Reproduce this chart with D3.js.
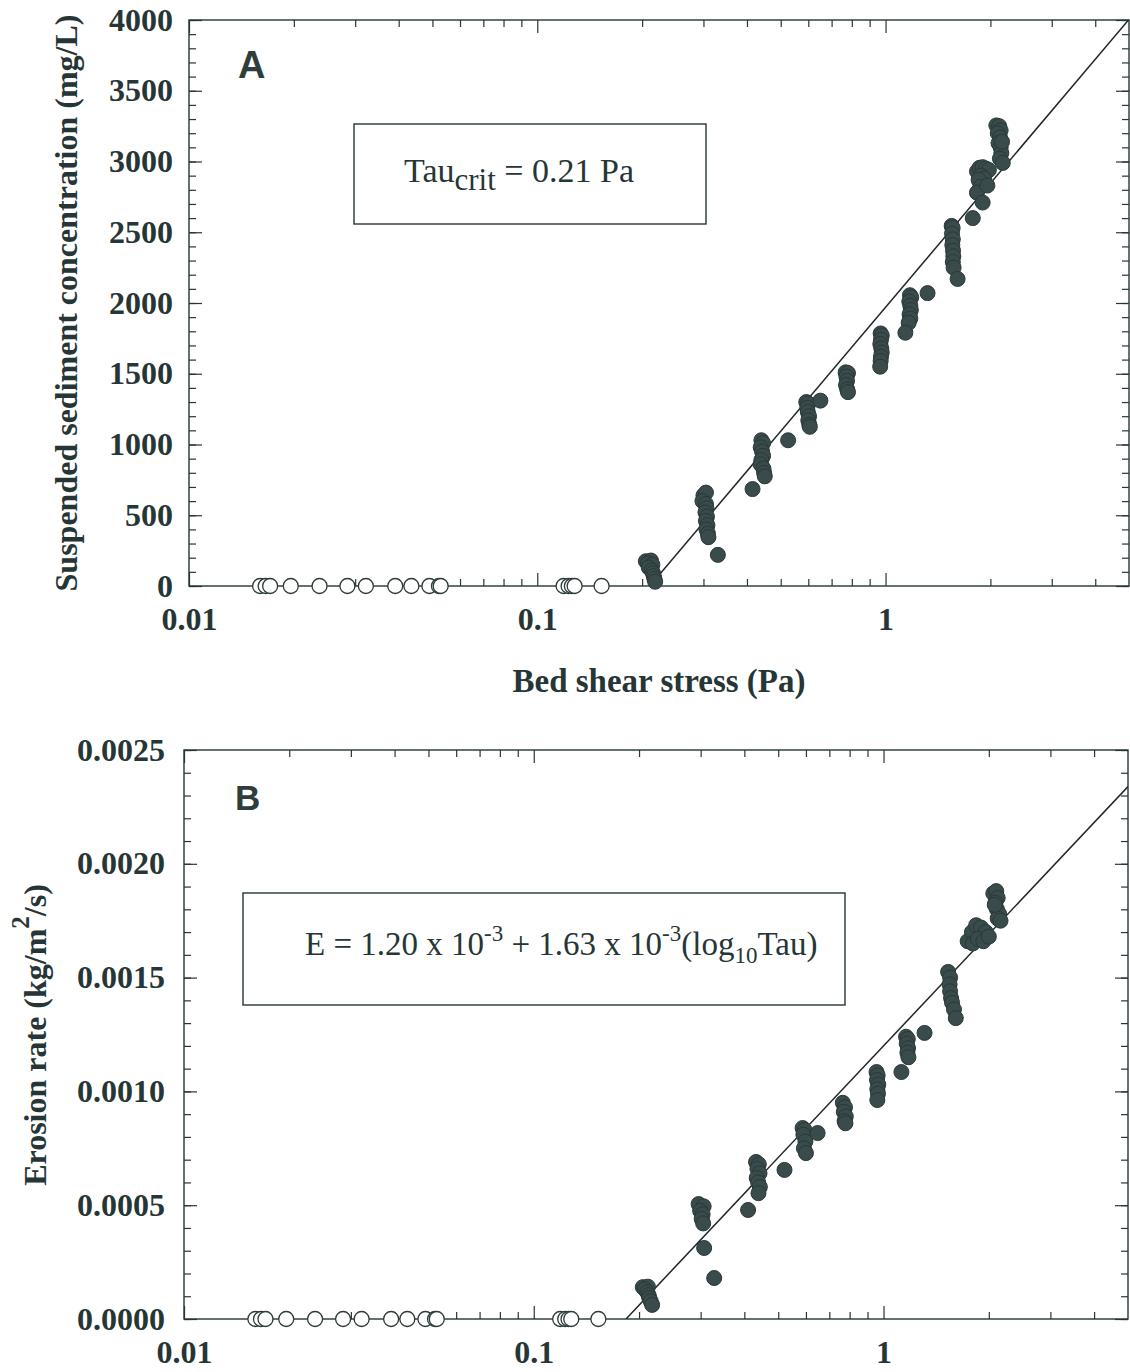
<!DOCTYPE html>
<html><head><meta charset="utf-8">
<script src="https://cdn.jsdelivr.net/npm/d3@7"></script>
<style>body{margin:0;background:#fff}</style>
</head><body>
<svg id="c" width="1130" height="1372" xmlns="http://www.w3.org/2000/svg"></svg>
<script>
// ---------- data ----------
const xTickValues = [0.01, 0.1, 1];
const xTickLabels = ["0.01", "0.1", "1"];
const yTicksA = [0, 500, 1000, 1500, 2000, 2500, 3000, 3500, 4000];
const yTickLabelsA = ["0", "500", "1000", "1500", "2000", "2500", "3000", "3500", "4000"];
const yTicksB = [0, 0.0005, 0.0010, 0.0015, 0.0020, 0.0025];
const yTickLabelsB = ["0.0000", "0.0005", "0.0010", "0.0015", "0.0020", "0.0025"];

// open circles: no erosion (value 0)
const openTau = [0.0160, 0.0166, 0.0171, 0.0196, 0.0237, 0.0285, 0.0322, 0.0391, 0.0435,
                 0.0490, 0.0522, 0.0528, 0.119, 0.123, 0.1257, 0.128, 0.153];

// panel A filled points
const tauA = [
  0.205,0.212,0.208,0.214,0.209,0.213,0.215,0.216,0.217,0.218,
  0.300,0.305,0.298,0.305,0.306,0.304,0.307,0.305,0.308,0.306,0.309,0.310,0.330,
  0.440,0.445,0.438,0.442,0.445,0.440,0.438,0.446,0.448,0.450,0.415,0.525,
  0.592,0.600,0.596,0.598,0.603,0.600,0.604,0.606,0.650,
  0.768,0.780,0.772,0.775,0.770,0.776,0.780,
  0.968,0.975,0.970,0.966,0.972,0.975,0.970,0.968,0.965,
  1.175,1.185,1.170,1.178,1.182,1.172,1.178,1.165,1.140,1.320,
  1.548,1.558,1.552,1.560,1.555,1.562,1.565,1.560,1.568,1.610,
  1.78,
  1.83,1.86,1.90,1.94,1.98,1.88,1.92,1.85,1.87,1.83,1.90,1.96,
  2.08,2.12,2.14,2.10,2.13,2.11,2.14,2.15,2.13,2.17,2.16
];
const concA = [
  175,180,160,150,130,110,90,70,50,30,
  640,660,600,580,550,520,490,460,430,400,370,345,220,
  1030,1010,980,950,920,890,860,830,800,775,685,1030,
  1300,1290,1260,1230,1200,1170,1140,1125,1310,
  1510,1505,1480,1450,1420,1390,1370,
  1785,1770,1740,1710,1680,1650,1620,1590,1550,
  2055,2040,2010,1980,1950,1920,1890,1860,1790,2070,
  2545,2530,2490,2450,2410,2370,2330,2290,2250,2170,
  2600,
  2930,2955,2960,2950,2940,2900,2880,2870,2820,2780,2710,2830,
  3255,3250,3220,3200,3170,3130,3100,3060,3020,2990,3140
];

// panel B filled points
const tauB = [
  0.205,0.212,0.208,0.211,0.213,0.214,0.216,0.218,
  0.296,0.306,0.299,0.304,0.302,0.305,0.307,0.328,
  0.432,0.440,0.436,0.442,0.434,0.438,0.443,0.439,0.410,0.521,
  0.587,0.595,0.590,0.598,0.592,0.600,0.648,
  0.765,0.776,0.770,0.780,0.774,0.778,
  0.955,0.962,0.958,0.966,0.960,0.964,0.960,
  1.160,1.173,1.165,1.175,1.170,1.178,1.125,1.310,
  1.530,1.550,1.545,1.550,1.560,1.570,1.590,1.609,
  1.74,1.79,1.84,1.90,1.96,1.80,1.86,1.93,2.00,
  2.06,2.10,2.12,2.09,2.11,2.14,2.12,2.16,2.08
];
const rateB = [
  0.000140,0.000142,0.000130,0.000118,0.000105,0.000092,0.000078,0.000062,
  0.000505,0.000495,0.000475,0.000460,0.000440,0.000420,0.000312,0.000180,
  0.000690,0.000680,0.000660,0.000640,0.000620,0.000600,0.000580,0.000553,0.000479,0.000655,
  0.000839,0.000830,0.000810,0.000780,0.000750,0.000729,0.000817,
  0.000950,0.000930,0.000910,0.000890,0.000870,0.000860,
  0.001085,0.001070,0.001050,0.001030,0.001010,0.000990,0.000962,
  0.001240,0.001230,0.001210,0.001190,0.001170,0.001150,0.001085,0.001257,
  0.001525,0.001500,0.001470,0.001440,0.001410,0.001390,0.001360,0.001322,
  0.001660,0.001700,0.001730,0.001720,0.001700,0.001650,0.001670,0.001660,0.001680,
  0.001870,0.001880,0.001850,0.001830,0.001800,0.001780,0.001760,0.001750,0.001820
];

// fitted lines: value = intercept + slope * log10(tau)
const fitA = [1970, 2910];
const fitB = [1.20e-3, 1.63e-3];

// ---------- drawing ----------
const ink = "#263636";
const dotFill = "#3a4b4b";
const serif = "'Liberation Serif','Times New Roman',serif";
const sans = "'Liberation Sans',Arial,sans-serif";
const svg = d3.select("#c");

function panel(cfg) {
  const x = d3.scaleLog().domain([0.01, 5]).range([cfg.left, cfg.right]);
  const y = d3.scaleLinear().domain([0, cfg.yMax]).range([cfg.bottom, cfg.top]);
  const g = svg.append("g");

  const xMinor = [];
  [0.01, 0.1, 1].forEach(d => { for (let m = 2; m <= 9; m++) { const v = d * m; if (v < 4.99) xMinor.push(v); } });
  const yMinor = d3.range(0, cfg.yMax + cfg.minorStep / 2, cfg.minorStep);

  const clean = s => s.call(a => a.select(".domain").remove())
                      .call(a => a.selectAll("line").attr("stroke", ink).attr("stroke-width", 1.2));

  // bottom
  g.append("g").attr("transform", `translate(0,${cfg.bottom})`)
    .call(d3.axisBottom(x).tickValues(xMinor).tickSize(-7).tickFormat("")).call(clean);
  const bx = g.append("g").attr("transform", `translate(0,${cfg.bottom})`)
    .call(d3.axisBottom(x).tickValues(xTickValues).tickSize(-13).tickFormat((d, i) => xTickLabels[i])).call(clean);
  bx.selectAll("text").attr("y", 44).attr("dy", null)
    .attr("font-family", serif).attr("font-weight", "bold").attr("font-size", 32).attr("fill", ink);
  // top
  g.append("g").attr("transform", `translate(0,${cfg.top})`)
    .call(d3.axisTop(x).tickValues(xMinor).tickSize(-7).tickFormat("")).call(clean);
  g.append("g").attr("transform", `translate(0,${cfg.top})`)
    .call(d3.axisTop(x).tickValues(xTickValues).tickSize(-13).tickFormat("")).call(clean);
  // left
  g.append("g").attr("transform", `translate(${cfg.left},0)`)
    .call(d3.axisLeft(y).tickValues(yMinor).tickSize(-7).tickFormat("")).call(clean);
  const ly = g.append("g").attr("transform", `translate(${cfg.left},0)`)
    .call(d3.axisLeft(y).tickValues(cfg.yTicks).tickSize(-13).tickPadding(cfg.labelPad)
      .tickFormat((d, i) => cfg.yLabels[i])).call(clean);
  ly.selectAll("text").attr("dy", 10)
    .attr("font-family", serif).attr("font-weight", "bold").attr("font-size", 32).attr("fill", ink);
  // right
  g.append("g").attr("transform", `translate(${cfg.right},0)`)
    .call(d3.axisRight(y).tickValues(yMinor).tickSize(-7).tickFormat("")).call(clean);
  g.append("g").attr("transform", `translate(${cfg.right},0)`)
    .call(d3.axisRight(y).tickValues(cfg.yTicks).tickSize(-13).tickFormat("")).call(clean);

  // frame
  g.append("rect").attr("x", cfg.left).attr("y", cfg.top)
    .attr("width", cfg.right - cfg.left).attr("height", cfg.bottom - cfg.top)
    .attr("fill", "none").attr("stroke", ink).attr("stroke-width", 1.4);

  // fit line
  const clipId = "clip" + cfg.id;
  svg.append("clipPath").attr("id", clipId).append("rect")
    .attr("x", cfg.left).attr("y", cfg.top).attr("width", cfg.right - cfg.left).attr("height", cfg.bottom - cfg.top);
  const t0 = Math.pow(10, -cfg.fit[0] / cfg.fit[1]);
  const lineTau = [t0, 5];
  g.append("path").attr("clip-path", `url(#${clipId})`)
    .datum(lineTau)
    .attr("d", d3.line().x(d => x(d)).y(d => y(cfg.fit[0] + cfg.fit[1] * Math.log10(d))))
    .attr("fill", "none").attr("stroke", "#1e2626").attr("stroke-width", 1.5);

  // open circles
  g.append("g").selectAll("circle").data(openTau).join("circle")
    .attr("cx", d => x(d)).attr("cy", y(0)).attr("r", 7.5)
    .attr("fill", "#fff").attr("stroke", "#2d3a3a").attr("stroke-width", 1.3);

  // filled points
  g.append("g").selectAll("circle").data(cfg.tau).join("circle")
    .attr("cx", d => x(d)).attr("cy", (d, i) => y(cfg.vals[i])).attr("r", 7.5)
    .attr("fill", dotFill).attr("stroke", "#2a3838").attr("stroke-width", 1);

  return { x, y, g };
}

const A = panel({ id: "A", left: 189, right: 1129, top: 20, bottom: 586, yMax: 4000, minorStep: 100,
  yTicks: yTicksA, yLabels: yTickLabelsA, labelPad: 16, fit: fitA, tau: tauA, vals: concA });
const B = panel({ id: "B", left: 184, right: 1128, top: 750, bottom: 1319, yMax: 0.0025, minorStep: 0.0001,
  yTicks: yTicksB, yLabels: yTickLabelsB, labelPad: 19, fit: fitB, tau: tauB, vals: rateB });

// panel letters
svg.append("text").attr("x", 238).attr("y", 78).text("A")
  .attr("font-family", sans).attr("font-weight", "bold").attr("font-size", 38).attr("fill", "#2f3d3d");
svg.append("text").attr("x", 235).attr("y", 810).text("B")
  .attr("font-family", sans).attr("font-weight", "bold").attr("font-size", 35).attr("fill", "#2f3d3d");

// axis titles
svg.append("text").attr("transform", "translate(77,303) rotate(-90)").attr("text-anchor", "middle")
  .attr("font-family", serif).attr("font-weight", "bold").attr("font-size", 32).attr("fill", ink)
  .text("Suspended sediment concentration (mg/L)");
svg.append("text").attr("x", 659).attr("y", 692).attr("text-anchor", "middle")
  .attr("font-family", serif).attr("font-weight", "bold").attr("font-size", 33).attr("fill", ink)
  .text("Bed shear stress (Pa)");
const yb = svg.append("text").attr("transform", "translate(46,1035) rotate(-90)").attr("text-anchor", "middle")
  .attr("font-family", serif).attr("font-weight", "bold").attr("font-size", 32).attr("fill", ink);
yb.append("tspan").text("Erosion rate (kg/m");
yb.append("tspan").attr("font-size", 25).attr("dy", -17).text("2");
yb.append("tspan").attr("dy", 17).text("/s)");

// annotation boxes
svg.append("rect").attr("x", 354).attr("y", 124).attr("width", 352).attr("height", 100)
  .attr("fill", "#fff").attr("stroke", ink).attr("stroke-width", 1.4);
const ta = svg.append("text").attr("x", 404).attr("y", 182)
  .attr("font-family", serif).attr("font-size", 34).attr("fill", ink);
ta.append("tspan").text("Tau");
ta.append("tspan").attr("font-size", 31).attr("dy", 8).text("crit");
ta.append("tspan").attr("dy", -8).text(" = 0.21 Pa");

svg.append("rect").attr("x", 243).attr("y", 893).attr("width", 602).attr("height", 112)
  .attr("fill", "#fff").attr("stroke", ink).attr("stroke-width", 1.4);
const tb = svg.append("text").attr("x", 305).attr("y", 955)
  .attr("font-family", serif).attr("font-size", 33).attr("fill", ink);
tb.append("tspan").text("E = 1.20 x 10");
tb.append("tspan").attr("font-size", 23).attr("dy", -14).text("-3");
tb.append("tspan").attr("dy", 14).text(" + 1.63 x 10");
tb.append("tspan").attr("font-size", 23).attr("dy", -14).text("-3");
tb.append("tspan").attr("dy", 14).text("(log");
tb.append("tspan").attr("font-size", 23).attr("dy", 8).text("10");
tb.append("tspan").attr("dy", -8).text("Tau)");
</script>
</body></html>
